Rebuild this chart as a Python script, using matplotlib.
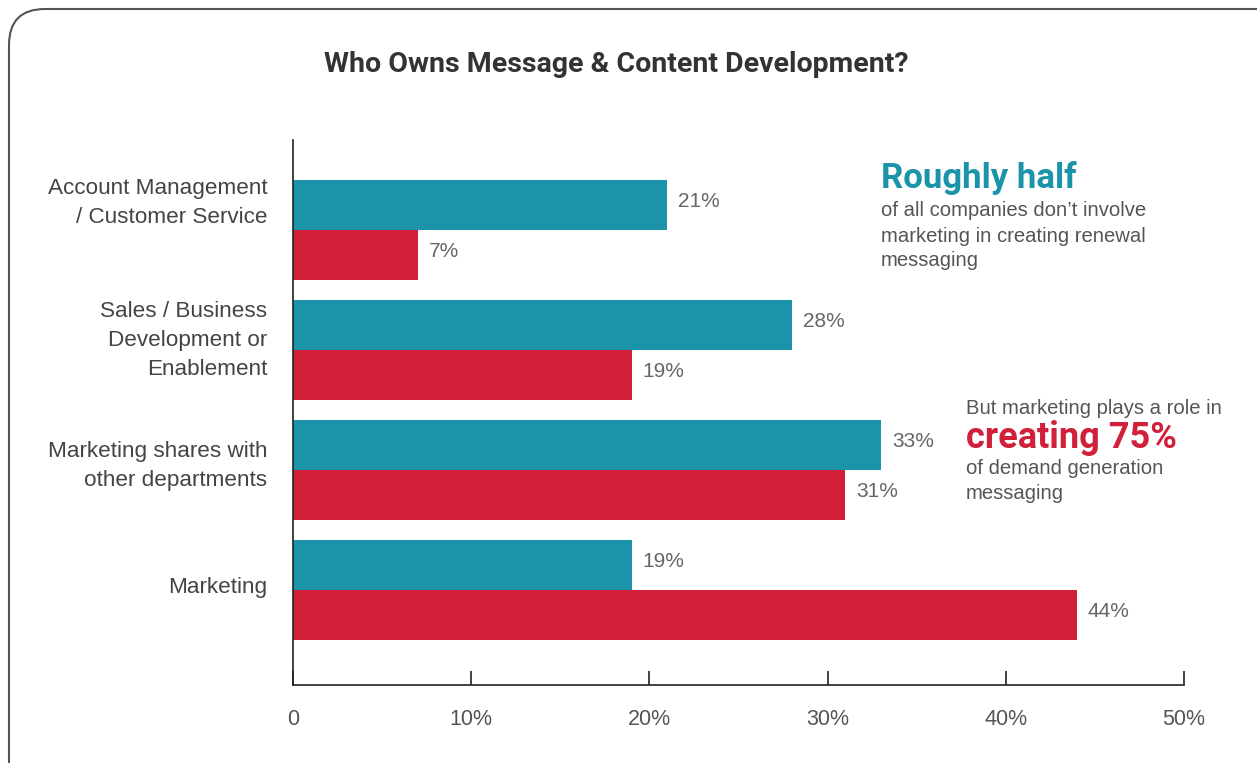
import matplotlib.pyplot as plt
from matplotlib.patches import FancyBboxPatch

# data
categories = ['Account Management\n/ Customer Service',
              'Sales / Business\nDevelopment or\nEnablement',
              'Marketing shares with\nother departments',
              'Marketing']
teal_vals = [21, 28, 33, 19]
red_vals = [7, 19, 31, 44]
tick_vals = [0, 10, 20, 30, 40, 50]
tick_labels = ['0', '10%', '20%', '30%', '40%', '50%']

teal = '#1b94aa'
red = '#d21f3a'
grey = '#444444'
head_font = ['Roboto', 'DejaVu Sans']
body_font = ['Liberation Sans', 'DejaVu Sans']

fig = plt.figure(figsize=(12.57, 7.63), dpi=100)

# background frame with rounded corner (pixel coordinates)
bg = fig.add_axes([0, 0, 1, 1])
bg.set_xlim(0, 1257)
bg.set_ylim(763, 0)
bg.axis('off')
frame = FancyBboxPatch((9, 9), 1300, 800, boxstyle='round,pad=0,rounding_size=36',
                       fc='white', ec='#555555', lw=1.5)
bg.add_patch(frame)

ax = fig.add_axes([293 / 1257, 1 - 685 / 763, 891 / 1257, 545 / 763])
ax.patch.set_alpha(0)

h = 0.415
ypos = list(range(len(categories)))
ax.barh([y - h / 2 for y in ypos], teal_vals, height=h, color=teal)
ax.barh([y + h / 2 for y in ypos], red_vals, height=h, color=red)

for y, v in zip(ypos, teal_vals):
    ax.text(v + 0.6, y - h / 2 - 0.03, f'{v}%', va='center', ha='left',
            fontsize=15, color='#666666', family=body_font)
for y, v in zip(ypos, red_vals):
    ax.text(v + 0.6, y + h / 2 - 0.03, f'{v}%', va='center', ha='left',
            fontsize=15, color='#666666', family=body_font)

ax.set_xlim(0, 50)
ax.set_ylim(3.79, -0.75)
ax.set_xticks(tick_vals)
ax.set_xticklabels(tick_labels, fontsize=15.5, color='#555555', family=body_font)
ax.tick_params(axis='x', direction='in', length=10, width=1.2, color='#222222', pad=17)
ax.set_yticks([])
offsets = [-0.225, -0.08, -0.035, -0.025]
for y, c, o in zip(ypos, categories, offsets):
    ax.text(-1.45, y + o, c, ha='right', va='center', fontsize=16.2, color=grey,
            family=body_font, linespacing=1.5)
for s in ['top', 'right']:
    ax.spines[s].set_visible(False)
ax.spines['left'].set_color('#222222')
ax.spines['bottom'].set_color('#222222')
ax.spines['left'].set_linewidth(1.2)
ax.spines['bottom'].set_linewidth(1.2)

# title
bg.text(616, 65, 'Who Owns Message & Content Development?', ha='center', va='center',
        fontsize=20.5, fontweight='bold', color='#333333', family=head_font)

# annotations
bg.text(881, 178, 'Roughly half', ha='left', va='center', fontsize=25,
        fontweight='bold', color=teal, family=head_font)
bg.text(881, 236, "of all companies don\u2019t involve\nmarketing in creating renewal\nmessaging",
        ha='left', va='center', fontsize=14.6, color='#555555', family=body_font, linespacing=1.4)

bg.text(966, 408, 'But marketing plays a role in', ha='left', va='center', fontsize=14.6,
        color='#555555', family=body_font)
bg.text(966, 438, 'creating 75%', ha='left', va='center', fontsize=26,
        fontweight='bold', color=red, family=head_font)
bg.text(966, 481, 'of demand generation\nmessaging', ha='left', va='center', fontsize=14.6,
        color='#555555', family=body_font, linespacing=1.4)

fig.savefig('out.png', dpi=100)
